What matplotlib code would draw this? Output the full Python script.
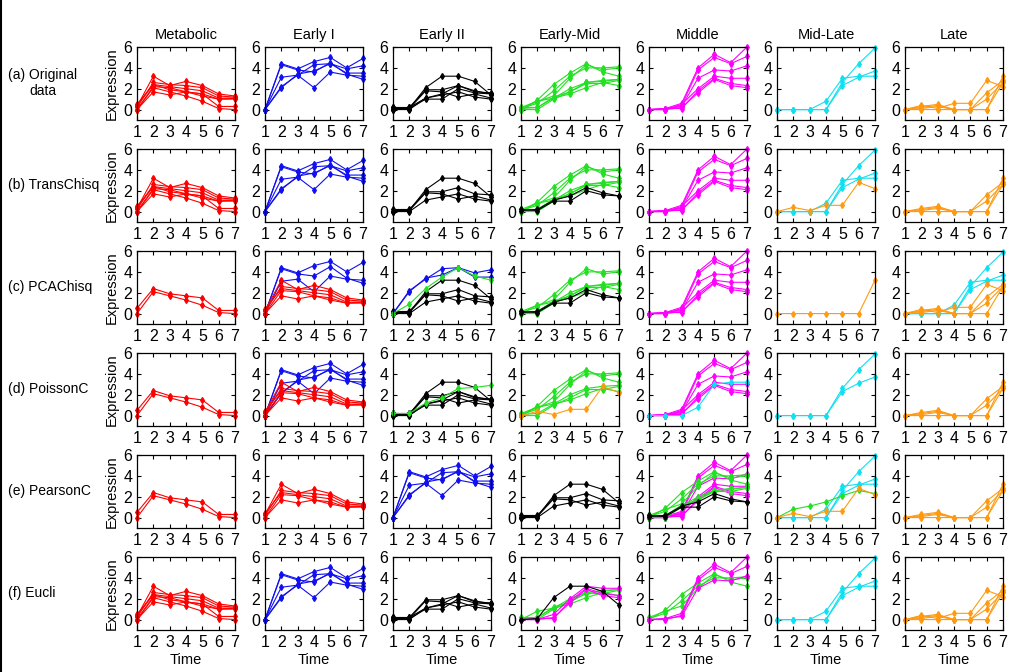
import matplotlib
matplotlib.use("Agg")
import matplotlib.pyplot as plt
from matplotlib.lines import Line2D

plt.rcParams.update({"font.family": ["Liberation Sans", "DejaVu Sans"], "font.size": 10.5,
                     "xtick.direction": "in", "ytick.direction": "in",
                     "xtick.top": True, "ytick.right": True,
                     "xtick.major.size": 3, "ytick.major.size": 3,
                     "axes.linewidth": 0.9})

TIME = [1, 2, 3, 4, 5, 6, 7]
CLUSTERS = ["Metabolic", "Early I", "Early II", "Early-Mid", "Middle", "Mid-Late", "Late"]
METHODS = ["(a) Original\ndata", "(b) TransChisq", "(c) PCAChisq", "(d) PoissonC",
           "(e) PearsonC", "(f) Eucli"]

# 表达谱（按原始簇着色）
R1 = [0.5, 2.4, 1.9, 1.7, 1.5, 0.3, 0.3]
R2 = [0.0, 2.1, 1.7, 1.3, 0.8, 0.1, 0.0]
R3 = [0.3, 3.2, 2.3, 2.7, 2.3, 1.5, 1.3]
R4 = [0.2, 2.6, 2.4, 2.3, 2.1, 1.3, 1.2]
R5 = [0.4, 2.4, 2.2, 2.0, 1.8, 1.1, 1.1]
R6 = [0.0, 2.2, 2.1, 1.7, 1.5, 1.0, 1.0]
R7 = [0.0, 1.7, 1.4, 1.7, 1.3, 1.0, 1.1]

B1 = [0.0, 4.4, 3.9, 4.6, 5.0, 4.0, 4.9]
B2 = [0.0, 4.3, 3.8, 3.6, 4.5, 3.4, 2.9]
B3 = [0.0, 3.1, 3.3, 2.1, 3.6, 3.3, 3.2]
B4 = [0.0, 2.2, 3.3, 4.3, 4.4, 3.9, 4.2]
B5 = [0.0, 2.1, 3.4, 3.7, 4.4, 3.5, 3.5]

K1 = [0.0, 0.1, 2.1, 3.2, 3.2, 2.7, 1.4]
K2 = [0.2, 0.2, 1.9, 1.9, 2.3, 1.7, 1.6]
K3 = [0.1, 0.1, 1.8, 1.7, 1.2, 1.5, 1.1]
K4 = [0.0, 0.0, 1.1, 1.4, 1.7, 1.2, 1.0]
K5 = [0.2, 0.1, 1.0, 1.0, 2.0, 1.6, 1.5]
K6 = [0.1, 0.2, 1.1, 1.5, 2.3, 1.8, 1.5]

G1 = [0.0, 0.9, 2.4, 3.5, 4.4, 3.6, 3.2]
G2 = [0.1, 0.6, 1.8, 3.2, 4.0, 4.0, 4.1]
G3 = [0.2, 0.8, 1.3, 3.0, 4.3, 3.8, 4.0]
G4 = [0.1, 0.2, 1.1, 2.0, 2.6, 2.8, 2.9]
G5 = [0.0, 0.0, 1.0, 1.7, 2.5, 2.5, 2.8]
G6 = [0.0, 0.8, 1.1, 1.5, 2.1, 2.6, 2.3]
G7 = [0.2, 0.2, 1.2, 1.7, 2.6, 2.7, 2.9]

M1 = [0.0, 0.1, 0.6, 4.0, 5.3, 4.5, 6.0]
M2 = [0.0, 0.0, 0.4, 3.8, 5.0, 4.4, 5.1]
M3 = [0.0, 0.1, 0.3, 3.0, 3.8, 3.7, 4.2]
M4 = [0.0, 0.0, 0.5, 2.0, 3.2, 3.0, 3.0]
M5 = [0.0, 0.1, 0.1, 1.8, 3.0, 2.5, 2.3]
M6 = [0.0, 0.0, 0.2, 1.6, 2.9, 2.3, 2.1]

C1 = [0.0, 0.0, 0.0, 0.0, 2.6, 4.4, 5.9]
C2 = [0.0, 0.0, 0.0, 0.8, 3.0, 3.2, 3.2]
C3 = [0.0, 0.0, 0.0, 0.0, 2.3, 3.1, 3.7]

O1 = [0.0, 0.4, 0.1, 0.6, 0.6, 2.8, 2.2]
O2 = [0.0, 0.3, 0.5, 0.0, 0.0, 1.6, 2.8]
O3 = [0.0, 0.1, 0.3, 0.0, 0.0, 1.0, 2.6]
O4 = [0.0, 0.0, 0.0, 0.0, 0.0, 0.0, 3.2]
O5 = [0.0, 0.2, 0.4, 0.0, 0.0, 0.0, 2.6]

GENES = {k: v for k, v in globals().items() if len(k) == 2 and k[0] in "RBKGMCO" and k[1].isdigit()}
COL = {"R": "#ff0000", "B": "#1010f0", "K": "#000000", "G": "#22e022",
       "M": "#ff00ff", "C": "#10e0f0", "O": "#ff9a10"}

R_ALL = ["R1", "R2", "R3", "R4", "R5", "R6", "R7"]
B_ALL = ["B1", "B2", "B3", "B4", "B5"]
K_ALL = ["K1", "K2", "K3", "K4", "K5", "K6"]
G_ALL = ["G1", "G2", "G3", "G4", "G5", "G6", "G7"]
M_ALL = ["M1", "M2", "M3", "M4", "M5", "M6"]
C_ALL = ["C1", "C2", "C3"]
O_ALL = ["O1", "O2", "O3", "O4", "O5"]

# 各方法的聚类结果：每行 7 个簇，各含哪些基因
ASSIGN = [
    [R_ALL, B_ALL, K_ALL, G_ALL, M_ALL, C_ALL, O_ALL],
    [R_ALL, B_ALL, K_ALL[:4], G_ALL + ["K5", "K6"], M_ALL, C_ALL + ["O1"], O_ALL[1:]],
    [["R1", "R2"], ["B1", "B2", "B3"] + R_ALL[2:], K_ALL[:4] + ["B4", "B5", "G1"],
     G_ALL[1:] + ["K5", "K6"], M_ALL, ["O4"], C_ALL + ["O1", "O2", "O3", "O5"]],
    [["R1", "R2"], B_ALL + R_ALL[2:], K_ALL + ["G7"], G_ALL[:6] + ["O1"], M_ALL + ["C2"],
     ["C1", "C3"], O_ALL[1:]],
    [["R1", "R2"], R_ALL[2:], B_ALL, K_ALL[:4],
     M_ALL + ["G1", "G2", "G3", "G4", "G5", "G7", "K5", "K6"], C_ALL + ["G6", "O1"], O_ALL[1:]],
    [R_ALL, B_ALL, K_ALL[1:], ["G4", "G5", "G6", "G7", "M4", "M5", "M6", "K1"],
     ["G1", "G2", "G3", "M1", "M2", "M3"], C_ALL, O_ALL],
]

W, H = 1024, 672
fig = plt.figure(figsize=(W / 100, H / 100), dpi=100)
for i, row in enumerate(ASSIGN):
    for j, genes in enumerate(row):
        left, top = 137 + 128 * j, 47 + 102 * i
        ax = fig.add_axes([left / W, 1 - (top + 73) / H, 98 / W, 73 / H])
        for g in genes:
            ax.plot(TIME, GENES[g], "-d", color=COL[g[0]], lw=0.8, ms=3.0, clip_on=False)
        ax.set(xlim=(1, 7), ylim=(-1, 6), xticks=TIME, yticks=[0, 2, 4, 6])
        ax.tick_params(labelsize=11.5, pad=3.5)
        if i == 0:
            ax.set_title(CLUSTERS[j], fontsize=10.5, pad=6)
        if j == 0:
            ax.set_ylabel("Expression", fontsize=10.5, labelpad=3)
        if i == len(ASSIGN) - 1:
            ax.set_xlabel("Time", fontsize=10.5, labelpad=2)
    fig.text(8 / W, 1 - (top + 36) / H, METHODS[i], fontsize=10, va="center",
             ha="left", multialignment="center")

fig.add_artist(Line2D([0.001, 0.001], [0, 1], color="black", lw=1.5))
fig.savefig("out.png", dpi=100, facecolor="white")
